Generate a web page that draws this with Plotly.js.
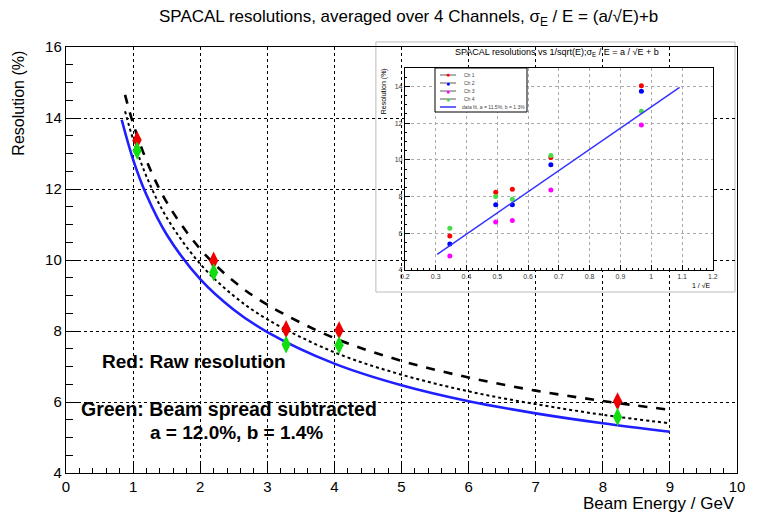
<!DOCTYPE html>
<html>
<head>
<meta charset="utf-8">
<script src="https://cdn.plot.ly/plotly-3.0.1.min.js"></script>
<style>html,body{margin:0;padding:0;background:#fff;}#chart{width:767px;height:515px;}</style>
</head>
<body>
<div id="chart"></div>
<script>
// ---- main panel data (Beam energy in GeV, resolution in %) ----
const energy = [1.06, 2.2, 3.28, 4.07, 8.22];
const rawRes = [13.38, 9.98, 8.05, 8.02, 6.02];
const subRes = [13.08, 9.65, 7.62, 7.6, 5.58];

// curves at sample energies
const curveE     = [0.88, 1.0, 1.2, 1.5, 2.0, 2.5, 3.0, 4.0, 5.0, 6.0, 7.0, 8.0, 9.0];
const rawFit     = [14.65, 13.85, 12.8, 11.63, 10.31, 9.4, 8.74, 7.8, 7.16, 6.69, 6.32, 6.03, 5.78];
const subFit     = [14.19, 13.4, 12.35, 11.2, 9.89, 8.99, 8.33, 7.4, 6.77, 6.3, 5.94, 5.64, 5.4];
const blueE      = [0.83, 1.0, 1.2, 1.5, 2.0, 2.5, 3.0, 4.0, 5.0, 6.0, 7.0, 8.0, 9.0];
const blueFit    = [13.95, 12.83, 11.83, 10.72, 9.46, 8.6, 7.97, 7.08, 6.47, 6.02, 5.68, 5.4, 5.16];

// ---- inset data (1/sqrt(E) vs resolution %) ----
const invSqrtE = [0.346, 0.495, 0.549, 0.674, 0.968];
const ch1 = [5.85, 8.24, 8.4, 10.13, 14.04];
const ch2 = [5.42, 7.56, 7.56, 9.73, 13.73];
const ch3 = [4.76, 6.62, 6.69, 8.36, 11.89];
const ch4 = [6.27, 8.0, 7.85, 10.24, 12.64];
const chNames = ["Ch 1", "Ch 2", "Ch 3", "Ch 4"];
const chColors = ["#ff0000", "#0000ff", "#ff00ff", "#44dd44"];
const fitName = "data fit, a = 11.5%, b = 1.3%";
const lineX = [0.305, 1.092];
const lineY = [4.85, 13.95];

const FONT = "Liberation Sans, Arial, Helvetica, sans-serif";

const chData = [ch1, ch2, ch3, ch4];
const traces = [
  {x: curveE, y: rawFit, mode: "lines", line: {color: "#000", width: 2.6, dash: "dash", shape: "spline"}},
  {x: curveE, y: subFit, mode: "lines", line: {color: "#000", width: 2, dash: "dot", shape: "spline"}},
  {x: blueE, y: blueFit, mode: "lines", line: {color: "#1f1fff", width: 2.6, shape: "spline"}},
  {x: energy, y: rawRes, mode: "markers", marker: {symbol: "diamond-tall", size: 13, color: "#ee0000"}},
  {x: energy, y: subRes, mode: "markers", marker: {symbol: "diamond-tall", size: 13, color: "#11dd11"}}
];
chData.forEach((d, i) => traces.push({x: invSqrtE, y: d, xaxis: "x2", yaxis: "y2", name: chNames[i], mode: "markers",
  marker: {symbol: "circle", size: 5, color: chColors[i]}}));
traces.push({x: lineX, y: lineY, xaxis: "x2", yaxis: "y2", name: fitName, mode: "lines", line: {color: "#3333ff", width: 1.5}});

// pixel -> paper helpers for the inset legend box (plot area 66..737 x 47..473)
const px = v => (v - 66) / 671;
const py = v => (473 - v) / 426;

const shapes = [
  {type: "rect", xref: "x2 domain", yref: "y2 domain", x0: -0.094, x1: 1.072, y0: -0.109, y1: 1.129,
   fillcolor: "#fff", line: {color: "#bbb", width: 1}, layer: "below"},
  {type: "rect", xref: "paper", yref: "paper", x0: px(435), x1: px(527), y0: py(112), y1: py(68),
   fillcolor: "#fff", line: {color: "#000", width: 1}, layer: "above"}
];
const annotations = [
  {xref: "paper", yref: "paper", x: 0.51, y: 1.068, xanchor: "center", yanchor: "middle", showarrow: false,
   text: "SPACAL resolutions, averaged over 4 Channels, σ<sub>E</sub> / E = (a/√E)+b", font: {size: 17}},
  {xref: "paper", yref: "paper", x: -0.07, y: 0.995, xanchor: "center", yanchor: "top", showarrow: false,
   textangle: -90, text: "Resolution (%)", font: {size: 16}},
  {xref: "paper", yref: "paper", x: 1.0, y: -0.072, xanchor: "right", yanchor: "middle", showarrow: false,
   text: "Beam Energy / GeV", font: {size: 17}},
  {xref: "x", yref: "y", x: 0.5, y: 7.13, xanchor: "left", yanchor: "middle", showarrow: false,
   text: "<b>Red: Raw resolution</b>", font: {size: 19}},
  {xref: "x", yref: "y", x: 0.2, y: 5.8, xanchor: "left", yanchor: "middle", showarrow: false,
   text: "<b>Green: Beam spread subtracted</b>", font: {size: 19.5}},
  {xref: "x", yref: "y", x: 1.22, y: 5.13, xanchor: "left", yanchor: "middle", showarrow: false,
   text: "<b>a = 12.0%, b = 1.4%</b>", font: {size: 19}},
  // inset texts
  {xref: "paper", yref: "paper", x: 0.732, y: 0.986, xanchor: "center", yanchor: "middle", showarrow: false,
   text: "SPACAL resolutions vs 1/sqrt(E);σ<sub>E</sub> / E = a / √E + b", font: {size: 9}},
  {xref: "paper", yref: "paper", x: 0.474, y: 0.955, xanchor: "center", yanchor: "top", showarrow: false,
   textangle: -90, text: "Resolution (%)", font: {size: 7}},
  {xref: "paper", yref: "paper", x: 0.964, y: 0.441, xanchor: "right", yanchor: "middle", showarrow: false,
   text: "1 / √E", font: {size: 7}}
];
// inset legend rows
const rowY = [75, 83, 91, 99, 107];
chNames.forEach((n, i) => {
  shapes.push({type: "line", xref: "paper", yref: "paper", x0: px(440), x1: px(456), y0: py(rowY[i]), y1: py(rowY[i]),
    line: {color: "#333", width: 0.8}, layer: "above"});
  annotations.push({xref: "paper", yref: "paper", x: px(448), y: py(rowY[i]), xanchor: "center", yanchor: "middle",
    showarrow: false, text: "●", font: {size: 7, color: chColors[i]}});
  annotations.push({xref: "paper", yref: "paper", x: px(462), y: py(rowY[i]), xanchor: "left", yanchor: "middle",
    showarrow: false, text: n, font: {size: 5, color: "#444"}});
});
shapes.push({type: "line", xref: "paper", yref: "paper", x0: px(440), x1: px(456), y0: py(rowY[4]), y1: py(rowY[4]),
  line: {color: "#3333ff", width: 1.5}, layer: "above"});
annotations.push({xref: "paper", yref: "paper", x: px(460), y: py(rowY[4]), xanchor: "left", yanchor: "middle",
  showarrow: false, text: fitName, font: {size: 5, color: "#444"}});

const layout = {
  width: 767, height: 515,
  margin: {l: 66, r: 30, t: 47, b: 42},
  paper_bgcolor: "#fff", plot_bgcolor: "#fff",
  font: {family: FONT, color: "#000"},
  showlegend: false,
  xaxis: {
    domain: [0, 1], range: [0, 10], dtick: 1, tick0: 0,
    ticks: "inside", ticklen: 10, tickcolor: "#000", tickwidth: 1,
    showline: true, mirror: true, linecolor: "#000", linewidth: 1.2,
    showgrid: true, gridcolor: "#000", griddash: "dot", gridwidth: 1, zeroline: false,
    minor: {dtick: 0.2, ticks: "inside", ticklen: 5, tickcolor: "#000", showgrid: false},
    tickfont: {size: 15}, anchor: "y"
  },
  yaxis: {
    domain: [0, 1], range: [4, 16], dtick: 2, tick0: 4,
    ticks: "inside", ticklen: 14, tickcolor: "#000", tickwidth: 1,
    showline: true, mirror: true, linecolor: "#000", linewidth: 1.2,
    showgrid: true, gridcolor: "#000", griddash: "dot", gridwidth: 1, zeroline: false,
    minor: {dtick: 0.5, ticks: "inside", ticklen: 7, tickcolor: "#000", showgrid: false},
    tickfont: {size: 15}, anchor: "x"
  },
  xaxis2: {
    domain: [0.505, 0.964], range: [0.2, 1.2], dtick: 0.1, tick0: 0.2, anchor: "y2",
    ticks: "inside", ticklen: 5, tickcolor: "#000", showline: true, mirror: true, linecolor: "#000", linewidth: 1,
    showgrid: true, gridcolor: "#aaa", griddash: "dot", zeroline: false,
    minor: {dtick: 0.02, ticks: "inside", ticklen: 2.5, tickcolor: "#000", showgrid: false},
    tickfont: {size: 7, color: "#333"}
  },
  yaxis2: {
    domain: [0.4765, 0.9507], range: [4, 15], dtick: 2, tick0: 4, anchor: "x2",
    ticks: "inside", ticklen: 5, tickcolor: "#000", showline: true, mirror: true, linecolor: "#000", linewidth: 1,
    showgrid: true, gridcolor: "#aaa", griddash: "dot", zeroline: false,
    minor: {dtick: 0.5, ticks: "inside", ticklen: 2.5, tickcolor: "#000", showgrid: false},
    tickfont: {size: 7, color: "#333"}
  },
  shapes: shapes,
  annotations: annotations
};

Plotly.newPlot("chart", traces, layout, {displayModeBar: false, staticPlot: true});
</script>
</body>
</html>
